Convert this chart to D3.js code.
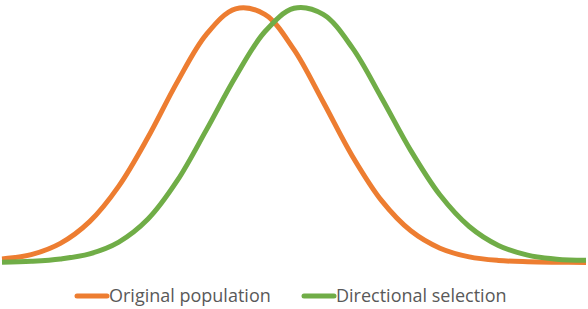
<!DOCTYPE html>
<html>
<head>
<meta charset="utf-8">
<script src="https://cdn.jsdelivr.net/npm/d3@7"></script>
<style>
  body { margin: 0; background: #fff; }
</style>
</head>
<body>
<div id="chart"></div>
<script>
// width and height
var chart_width = 588;
var chart_height = 309;

// data (x position 0-100, relative height 0-100)
var xs = [0, 5, 10, 15, 20, 25, 30, 35, 40, 45, 50, 55, 60, 65, 70, 75, 80, 85, 90, 95, 100];
var original = [1.4, 3.1, 7.5, 16.0, 29.9, 49.0, 70.6, 89.3, 99.3, 97.1, 83.3, 62.8, 41.6, 24.2, 12.4, 5.6, 2.2, 0.8, 0.3, 0.1, 0.0];
var directional = [0.1, 0.5, 1.4, 3.4, 8.0, 17.0, 32.0, 51.9, 72.7, 90.3, 99.5, 97.1, 84.0, 64.4, 43.8, 26.4, 14.1, 6.7, 2.9, 1.3, 0.9];

var series_names = ['Original population', 'Directional selection'];
var series_colors = ['#ED7D31', '#70AD47'];

var series = [original, directional].map(function(vals, i){
    return {
        name: series_names[i],
        color: series_colors[i],
        values: vals.map(function(v, j){ return {x: xs[j], y: v}; })
    };
});

var x = d3.scaleLinear()
          .domain([0, 100])
          .range([2, 586]);

var y = d3.scaleLinear()
          .domain([0, 100])
          .range([262.5, 7]);

var line = d3.line()
             .x(function(d){ return x(d.x); })
             .y(function(d){ return y(d.y); })
             .curve(d3.curveCatmullRom);

var svg = d3.select('#chart')
            .append('svg')
            .attr('width', chart_width)
            .attr('height', chart_height);

svg.selectAll('path.series')
    .data(series)
    .enter()
    .append('path')
    .attr('class', 'series')
    .attr('d', function(d){ return line(d.values); })
    .attr('fill', 'none')
    .attr('stroke', function(d){ return d.color; })
    .attr('stroke-width', 5)
    .attr('stroke-linejoin', 'round');

// legend
var legend_x = [77, 304];
var legend = svg.selectAll('g.legend')
    .data(series)
    .enter()
    .append('g')
    .attr('class', 'legend')
    .attr('transform', function(d, i){ return 'translate(' + legend_x[i] + ',296)'; });

legend.append('line')
    .attr('x1', 0)
    .attr('x2', 30)
    .attr('y1', 0)
    .attr('y2', 0)
    .attr('stroke', function(d){ return d.color; })
    .attr('stroke-width', 5)
    .attr('stroke-linecap', 'round');

legend.append('text')
    .attr('x', 32)
    .attr('y', 6)
    .attr('font-family', '"Open Sans", sans-serif')
    .attr('font-size', 18)
    .attr('fill', '#595959')
    .text(function(d){ return d.name; });
</script>
</body>
</html>
